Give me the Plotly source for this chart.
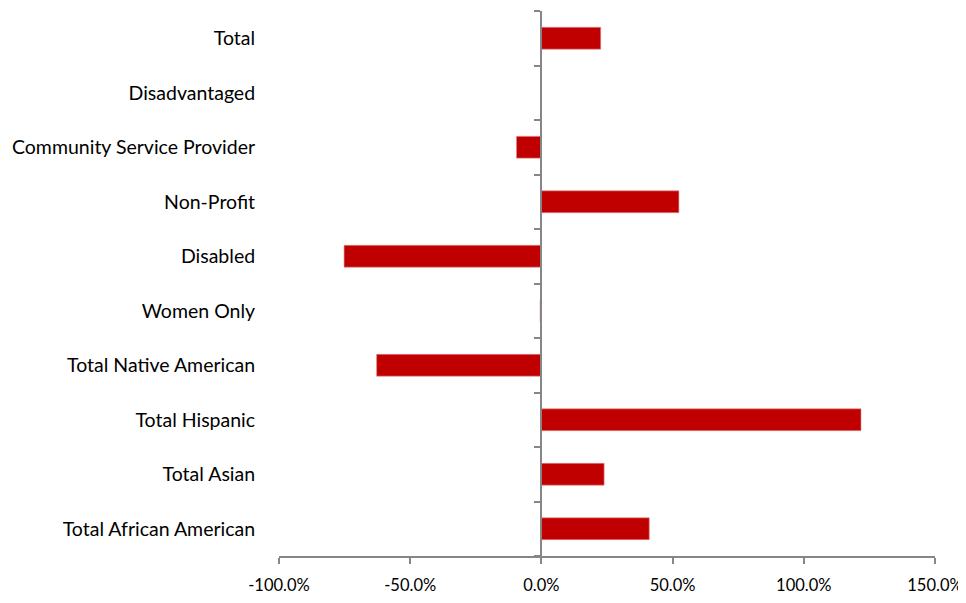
import plotly.graph_objects as go

categories = ["Total African American", "Total Asian", "Total Hispanic", "Total Native American",
              "Women Only", "Disabled", "Non-Profit", "Community Service Provider",
              "Disadvantaged", "Total"]
values = [41.1, 23.9, 121.8, -62.8, -0.5, -75.2, 52.4, -9.5, 0.0, 22.6]
x_ticks = [-100, -50, 0, 50, 100, 150]
x_tick_labels = ["-100.0%", "-50.0%", "0.0%", "50.0%", "100.0%", "150.0%"]

AXIS = "#868686"
FONT = "Lato"

fig = go.Figure()
fig.add_trace(go.Bar(
    y=categories, x=values, orientation="h",
    marker=dict(color="#C00000", line=dict(color="#E08A8A", width=0.6)),
    width=0.4, showlegend=False,
))
# invisible anchor trace for the center axis
fig.add_trace(go.Scatter(x=[0], y=[0], yaxis="y2", mode="markers",
                         marker=dict(opacity=0), hoverinfo="skip", showlegend=False))

fig.update_layout(
    width=958, height=595,
    margin=dict(l=271, r=29, t=3, b=47),
    paper_bgcolor="white", plot_bgcolor="white",
    font=dict(family=FONT, color="#000000"),
    xaxis=dict(
        range=[-100, 150], tickvals=x_ticks, ticktext=x_tick_labels,
        showgrid=False, zeroline=False, showline=True, linecolor=AXIS, linewidth=2,
        ticks="outside", ticklen=6, tickwidth=2, tickcolor=AXIS,
        tickfont=dict(size=16.5, family=FONT), ticklabelstandoff=7,
        fixedrange=True,
    ),
    yaxis=dict(
        type="category", categoryorder="array", categoryarray=categories,
        range=[-0.5, 9.5], showgrid=False, zeroline=False, showline=False,
        ticks="outside", ticklen=19, tickcolor="rgba(0,0,0,0)",
        tickfont=dict(size=19.5, family=FONT),
    ),
    yaxis2=dict(
        overlaying="y", anchor="free", position=0.4, side="left",
        range=[-0.5, 9.5], tickvals=[i - 0.5 for i in range(11)],
        showticklabels=False, showgrid=False, zeroline=False,
        showline=True, linecolor=AXIS, linewidth=2,
        ticks="outside", ticklen=6, tickwidth=2, tickcolor=AXIS,
    ),
)

fig.write_html("out.html")
